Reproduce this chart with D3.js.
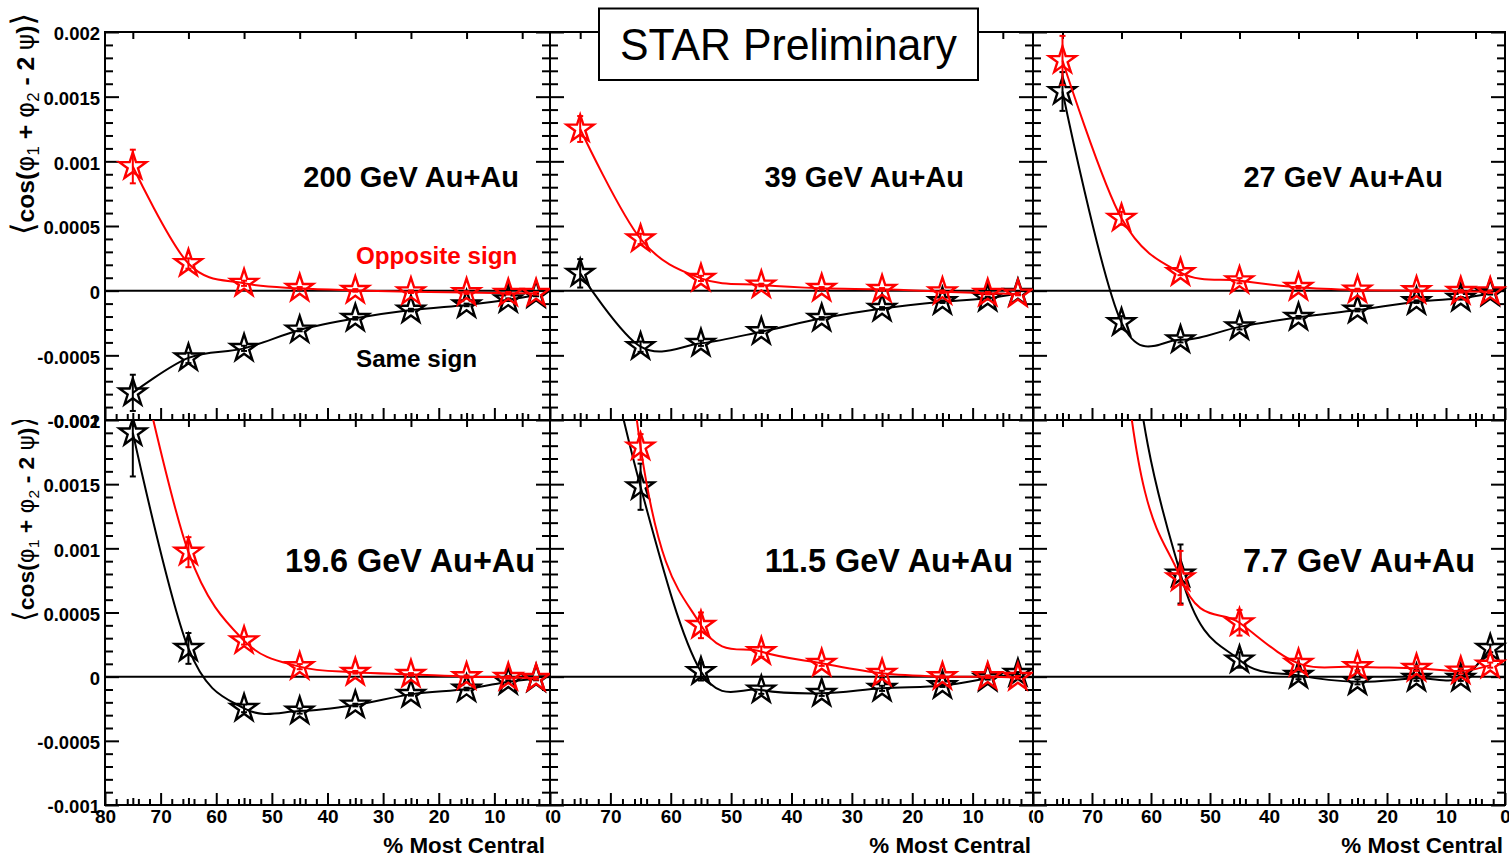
<!DOCTYPE html>
<html><head><meta charset="utf-8">
<script src="https://cdn.jsdelivr.net/npm/d3@7"></script>
<style>
body{margin:0;background:#fff}
svg{display:block}
text{font-family:"Liberation Sans",Arial,Helvetica,sans-serif}
</style>
</head><body>
<svg id="c" width="1509" height="856"></svg>
<script>
// ---------------- data ----------------
const centrality = [75, 65, 55, 45, 35, 25, 15, 7.5, 2.5];
const panelTitles = ["200 GeV Au+Au", "39 GeV Au+Au", "27 GeV Au+Au", "19.6 GeV Au+Au", "11.5 GeV Au+Au", "7.7 GeV Au+Au"];

// opposite-sign (red) and same-sign (black) correlators
const os200 = [0.00096, 0.00021, 0.000057, 0.000018, 0.000002, -0.000008, -0.000015, -0.00002, -0.00002];
const os200Err = [0.00013, 0.00004, 0.00002, 0.00001, 0.00001, 0.00001, 0.00001, 0.00001, 0.00001];
const ss200 = [-0.00079, -0.00052, -0.000446, -0.000304, -0.000214, -0.00015, -0.00011, -0.00007, -0.000033];
const ss200Err = [0.00014, 0.00004, 0.00002, 0.00001, 0.00001, 0.00001, 0.00001, 0.00001, 0.00001];

const os39 = [0.00125, 0.0004, 0.000095, 0.000044, 0.000018, 0.00001, -0.000008, -0.00002, -0.000026];
const os39Err = [0.0001, 0.00004, 0.00002, 0.00001, 0.00001, 0.00001, 0.00001, 0.00001, 0.00001];
const ss39 = [0.000134, -0.000433, -0.000407, -0.000317, -0.000214, -0.000137, -0.000085, -0.000059, -0.00002];
const ss39Err = [0.00011, 0.00004, 0.00002, 0.00001, 0.00001, 0.00001, 0.00001, 0.00001, 0.00001];

const os27 = [0.00178, 0.00056, 0.00014, 0.000077, 0.000026, 0.000005, 0.0, -0.000005, -0.000008];
const os27Err = [0.00019, 0.00005, 0.00002, 0.00002, 0.00001, 0.00001, 0.00001, 0.00001, 0.00001];
const ss27 = [0.00154, -0.000247, -0.00038, -0.00028, -0.000206, -0.00015, -0.000085, -0.000059, -0.00002];
const ss27Err = [0.00015, 0.00005, 0.00002, 0.00002, 0.00001, 0.00001, 0.00001, 0.00001, 0.00001];

const os19 = [0.0027, 0.00097, 0.00028, 0.000078, 0.000034, 0.000018, 0.0, -0.000005, -0.000013];
const os19Err = [0.0003, 0.000117, 0.00003, 0.00002, 0.00001, 0.00001, 0.00001, 0.00001, 0.00001];
const ss19 = [0.0019, 0.00022, -0.000247, -0.000268, -0.000221, -0.000138, -0.000096, -0.000039, -0.000018];
const ss19Err = [0.00034, 0.00012, 0.00003, 0.00002, 0.00001, 0.00001, 0.00001, 0.00001, 0.00001];

const os11 = [0.0067, 0.00179, 0.0004, 0.000195, 0.000104, 0.000026, 0.0, 0.0, -0.000005];
const os11Err = [0.0006, 0.0001, 0.0001, 0.00004, 0.00002, 0.00002, 0.00001, 0.00001, 0.00001];
const ss11 = [0.0035, 0.00148, 0.00004, -0.000104, -0.00013, -0.000091, -0.00007, -0.000013, 0.000026];
const ss11Err = [0.0005, 0.00018, 0.00007, 0.00003, 0.00002, 0.00002, 0.00001, 0.00001, 0.00001];

const os7 = [0.0104, 0.0027, 0.00077, 0.00042, 0.000104, 0.000078, 0.000065, 0.000044, 0.00009];
const os7Err = [0.001, 0.0004, 0.00021, 0.0001, 0.00004, 0.00003, 0.00002, 0.00002, 0.00002];
const ss7 = [0.0108, 0.0034, 0.0008, 0.00013, 0.00001, -0.00004, -0.000013, -0.000013, 0.00022];
const ss7Err = [0.0015, 0.0005, 0.00023, 0.00006, 0.00003, 0.00002, 0.00002, 0.00002, 0.00003];

const oppositeSeries = [os200, os39, os27, os19, os11, os7];
const oppositeErrors = [os200Err, os39Err, os27Err, os19Err, os11Err, os7Err];
const sameSeries = [ss200, ss39, ss27, ss19, ss11, ss7];
const sameErrors = [ss200Err, ss39Err, ss27Err, ss19Err, ss11Err, ss7Err];

const yMajorTicks = [-0.001, -0.0005, 0, 0.0005, 0.001, 0.0015, 0.002];
const yTickLabels = ["-0.001", "-0.0005", "0", "0.0005", "0.001", "0.0015", "0.002"];
const xMajorTicks = [80, 70, 60, 50, 40, 30, 20, 10, 0];
const xTickLabels = ["80", "70", "60", "50", "40", "30", "20", "10", "0"];
const xBinTicks = [75, 65, 55, 45, 35, 25, 15, 5];

// ---------------- layout ----------------
const W = 1509, H = 856;
const frameX = [[105, 550], [550, 1033], [1033, 1505]];
const frameY = [[32, 420], [420, 805]];
const padX = [[0, 550], [550, 1033], [1033, W]];
const padY = [[0, 420], [420, H]];
const RED = "#ff0000", BLACK = "#000000";

const svg = d3.select("#c");
const defs = svg.append("defs");
svg.append("rect").attr("width", W).attr("height", H).attr("fill", "#fff");

function fmtY(v) {
  const i = yMajorTicks.findIndex(t => Math.abs(t - v) < 1e-12);
  return i >= 0 ? yTickLabels[i] : "";
}
function fmtX(v) {
  const i = xMajorTicks.indexOf(v);
  return i >= 0 ? xTickLabels[i] : "";
}

const starSym = d3.symbol().type(d3.symbolStar).size(225);
const styleAxis = (sel, fs) => {
  sel.select(".domain").remove();
  sel.selectAll(".tick line").attr("stroke", "#000").attr("stroke-width", 2);
  sel.selectAll(".tick text").attr("fill", "#000").attr("font-size", fs).attr("font-weight", "bold")
    .attr("font-family", '"Liberation Sans",Arial,sans-serif');
};

for (let p = 0; p < 6; p++) {
  const r = Math.floor(p / 3), c = p % 3;
  const x = d3.scaleLinear().domain([80, 0]).range(frameX[c]);
  const y = d3.scaleLinear().domain([-0.001, 0.002]).range([frameY[r][1], frameY[r][0]]);

  defs.append("clipPath").attr("id", "pad" + p).append("rect")
    .attr("x", padX[c][0]).attr("y", padY[r][0])
    .attr("width", padX[c][1] - padX[c][0]).attr("height", padY[r][1] - padY[r][0]);
  defs.append("clipPath").attr("id", "frm" + p).append("rect")
    .attr("x", frameX[c][0]).attr("y", frameY[r][0])
    .attr("width", frameX[c][1] - frameX[c][0]).attr("height", frameY[r][1] - frameY[r][0]);

  const g = svg.append("g").attr("clip-path", `url(#pad${p})`);

  g.append("line").attr("x1", x(80)).attr("x2", x(0)).attr("y1", y(0)).attr("y2", y(0))
    .attr("stroke", "#000").attr("stroke-width", 2);

  // y axes
  const yMinor = d3.range(-10, 21).map(k => k * 0.0001).filter(v => !yMajorTicks.some(t => Math.abs(t - v) < 1e-12));
  styleAxis(g.append("g").attr("transform", `translate(${x(80)},0)`)
    .call(d3.axisLeft(y).tickValues(yMajorTicks).tickSize(-14).tickFormat("")), 19);
  styleAxis(g.append("g").attr("transform", `translate(${x(80)},0)`)
    .call(d3.axisLeft(y).tickValues(yMinor).tickSize(-8).tickFormat("")), 19);
  styleAxis(g.append("g").attr("transform", `translate(${x(0)},0)`)
    .call(d3.axisRight(y).tickValues(yMajorTicks).tickSize(-14).tickFormat("")), 19);
  styleAxis(g.append("g").attr("transform", `translate(${x(0)},0)`)
    .call(d3.axisRight(y).tickValues(yMinor).tickSize(-8).tickFormat("")), 19);

  // y tick labels (left column only, drawn without pad clipping)
  if (c === 0) {
    const yl = svg.append("g").attr("transform", `translate(${x(80)},0)`)
      .call(d3.axisLeft(y).tickValues(yMajorTicks).tickSize(0).tickPadding(5).tickFormat(fmtY));
    styleAxis(yl, 18.5);
    yl.selectAll(".tick line").remove();
    yl.selectAll(".tick text").attr("dy", "0.42em");
  }

  // x axes
  const xMinor = d3.range(0, 81, 2).filter(v => v % 10 !== 0);
  styleAxis(g.append("g").attr("transform", `translate(0,${y(-0.001)})`)
    .call(d3.axisBottom(x).tickValues(xMajorTicks).tickSize(-12).tickPadding(5).tickFormat(fmtX)), 19);
  styleAxis(g.append("g").attr("transform", `translate(0,${y(-0.001)})`)
    .call(d3.axisBottom(x).tickValues(xMinor).tickSize(-6).tickFormat("")), 19);
  styleAxis(g.append("g").attr("transform", `translate(0,${y(-0.001)})`)
    .call(d3.axisBottom(x).tickValues(xBinTicks).tickSize(-7).tickFormat("")), 19);
  styleAxis(g.append("g").attr("transform", `translate(0,${y(0.002)})`)
    .call(d3.axisTop(x).tickValues(xBinTicks).tickSize(-7).tickFormat("")), 19);

  // frame
  g.append("rect").attr("x", x(80)).attr("y", y(0.002))
    .attr("width", x(0) - x(80)).attr("height", y(-0.001) - y(0.002))
    .attr("fill", "none").attr("stroke", "#000").attr("stroke-width", 2);

  // series
  const line = d3.line().x(d => x(d[0])).y(d => y(d[1])).curve(d3.curveCatmullRom.alpha(0));
  const drawSeries = (vals, errs, color) => {
    const pts = centrality.map((cv, i) => [cv, vals[i], errs[i]]);
    g.append("path").attr("clip-path", `url(#frm${p})`).datum(pts).attr("d", line)
      .attr("fill", "none").attr("stroke", color).attr("stroke-width", 2);
    const inside = pts.filter(d => d[1] <= 0.002 && d[1] >= -0.001);
    const eg = g.append("g").attr("clip-path", `url(#frm${p})`);
    inside.forEach(d => {
      const y1 = y(d[1] + d[2]), y2 = y(d[1] - d[2]), xx = x(d[0]);
      eg.append("line").attr("x1", xx).attr("x2", xx).attr("y1", y1).attr("y2", y2)
        .attr("stroke", color).attr("stroke-width", 2);
      [y1, y2].forEach(yy => eg.append("line").attr("x1", xx - 3).attr("x2", xx + 3)
        .attr("y1", yy).attr("y2", yy).attr("stroke", color).attr("stroke-width", 2));
    });
    g.selectAll(null).data(inside).enter().append("path")
      .attr("d", starSym).attr("transform", d => `translate(${x(d[0])},${y(d[1])})`)
      .attr("fill", "none").attr("stroke", color).attr("stroke-width", 2.4).attr("stroke-linejoin", "miter");
  };
  drawSeries(sameSeries[p], sameErrors[p], BLACK);
  drawSeries(oppositeSeries[p], oppositeErrors[p], RED);

  // panel title
  const titleFs = r === 0 ? 29 : 32.4;
  const titleEnd = [[519, 964, 1443], [535, 1013, 1475]][r][c];
  const titleBase = r === 0 ? 187 : 572;
  g.append("text").attr("x", titleEnd).attr("y", titleBase).attr("text-anchor", "end")
    .attr("font-size", titleFs).attr("font-weight", "bold").text(panelTitles[p]);

  if (r === 1) {
    g.append("text").attr("x", [545, 1031, 1503][c]).attr("y", 853).attr("text-anchor", "end")
      .attr("font-size", 22.4).attr("font-weight", "bold").text("% Most Central");
  }

  // y title on left column
  if (c === 0) {
    const base = 24;
    const t = g.append("text").attr("transform", `translate(34,${r === 0 ? 13 : 416}) rotate(-90)`)
      .attr("text-anchor", "end");
    const parts = [
      ["\u27E8", 1.3, "normal", '"DejaVu Sans",sans-serif', 0],
      ["cos(", 1, "bold", null, 0],
      ["\u03c6", 1, "normal", '"DejaVu Sans",sans-serif', 0],
      ["1", 0.68, "normal", null, 5],
      [" + ", 1, "bold", null, -5],
      ["\u03c6", 1, "normal", '"DejaVu Sans",sans-serif', 0],
      ["2", 0.68, "normal", null, 5],
      [" - 2 ", 1, "bold", null, -5],
      ["\u03c8", 1, "normal", '"DejaVu Sans",sans-serif', 0],
      [")", 1, "bold", null, 0],
      ["\u27E9", 1.3, "normal", '"DejaVu Sans",sans-serif', 0]
    ];
    const spans = parts.map(pt => {
      const s = t.append("tspan").text(pt[0]).attr("font-weight", pt[2]).attr("dy", pt[4]);
      if (pt[3]) s.attr("font-family", pt[3]);
      return s;
    });
    const setSize = b => spans.forEach((s, i) => s.attr("font-size", b * parts[i][1]));
    setSize(base);
    const len = t.node().getComputedTextLength();
    setSize(base * (r === 0 ? 222 : 206) / len);
  }

  if (p === 0) {
    g.append("text").attr("x", 356).attr("y", 264).attr("font-size", 24.2).attr("font-weight", "bold")
      .attr("fill", RED).text("Opposite sign");
    g.append("text").attr("x", 356).attr("y", 367).attr("font-size", 24.2).attr("font-weight", "bold")
      .attr("fill", BLACK).text("Same sign");
  }
}

// STAR Preliminary box
svg.append("rect").attr("x", 599).attr("y", 8.5).attr("width", 379).attr("height", 71.5)
  .attr("fill", "#fff").attr("stroke", "#000").attr("stroke-width", 2);
svg.append("text").attr("x", 620).attr("y", 60).attr("font-size", 45)
  .attr("textLength", 337).attr("lengthAdjust", "spacingAndGlyphs").text("STAR Preliminary");
</script>
</body></html>
